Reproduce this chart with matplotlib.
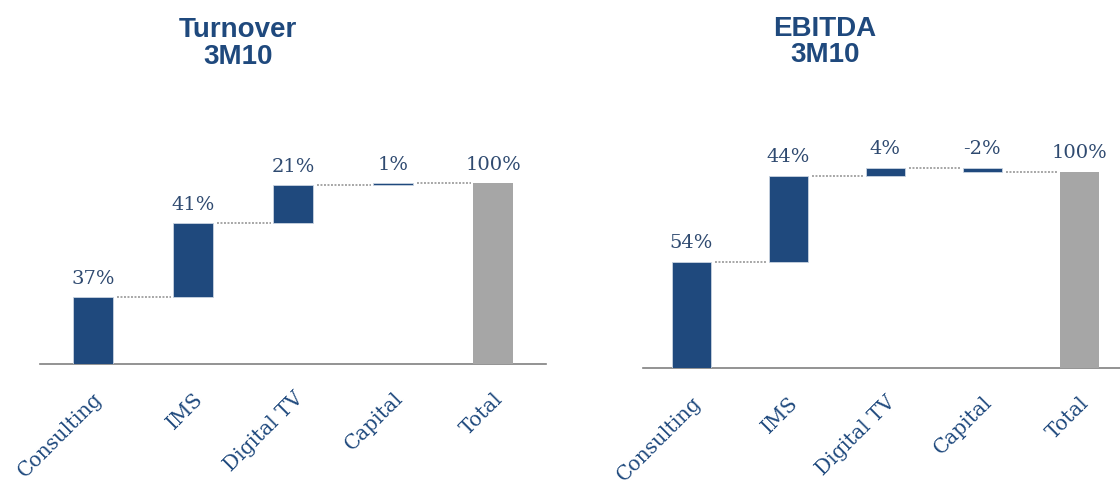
import matplotlib.pyplot as plt
import matplotlib.transforms as mtransforms

# ==================== Dados ====================
categorias = ["Consulting", "IMS", "Digital TV", "Capital", "Total"]
turnover = [37, 41, 21, 1]
ebitda = [54, 44, 4, -2]
total_turnover = 100
total_ebitda = 100

azul = "#1F497D"
cinza = "#A6A6A6"
cor_rotulo = "#2F4A70"


def cascata(ax, valores, total):
    # blocos acumulados
    base = 0
    topos = []
    for i, v in enumerate(valores):
        ax.bar(i, v, bottom=base, width=0.4, color=azul, edgecolor="#C9D3E0", linewidth=0.6, zorder=3)
        topo = max(base, base + v)
        ax.text(i, topo + 5, "%d%%" % v, ha="center", va="bottom", fontsize=14,
                family="DejaVu Serif", color=cor_rotulo)
        base = base + v
        topos.append(base)
    n = len(valores)
    ax.bar(n, total, width=0.4, color=cinza, zorder=3)
    ax.text(n, total + 5, "%d%%" % total, ha="center", va="bottom", fontsize=14,
            family="DejaVu Serif", color=cor_rotulo)

    # linhas pontilhadas entre blocos
    for i, nivel in enumerate(topos):
        ax.plot([i + 0.24, i + 0.78], [nivel, nivel], linestyle=(0, (1, 0.8)), color="#A6A6A6",
                linewidth=1.4, zorder=2)

    ax.set_xticks(range(len(categorias)))
    ax.set_xticklabels(categorias, rotation=45, ha="right", rotation_mode="anchor",
                       fontsize=14.5, family="DejaVu Serif", color=azul)
    desloc = mtransforms.ScaledTranslation(0.14, -0.06, ax.figure.dpi_scale_trans)
    for rot in ax.get_xticklabels():
        rot.set_transform(rot.get_transform() + desloc)
    ax.tick_params(axis="x", length=0, pad=18)
    ax.set_yticks([])
    for lado in ["top", "right", "left"]:
        ax.spines[lado].set_visible(False)
    ax.spines["bottom"].set_color("#808080")
    ax.spines["bottom"].set_linewidth(1.2)
    ax.set_ylim(0, 115)


fig = plt.figure(figsize=(11.2, 4.8), dpi=100)

ax1 = fig.add_axes([0.0357, 0.2417, 0.452, 0.4337])
cascata(ax1, turnover, total_turnover)
ax1.set_xlim(-0.53, 4.53)

ax2 = fig.add_axes([0.574, 0.2333, 0.427, 0.4696])
cascata(ax2, ebitda, total_ebitda)
ax2.set_xlim(-0.5, 4.43)

fig.text(0.2125, 0.909, "Turnover\n3M10", ha="center", va="center", fontsize=20,
         fontweight="bold", family="Liberation Sans", color=azul, linespacing=1.05)
fig.text(0.7366, 0.912, "EBITDA\n3M10", ha="center", va="center", fontsize=20,
         fontweight="bold", family="Liberation Sans", color=azul, linespacing=1.0)

fig.savefig("out.png", dpi=100)
